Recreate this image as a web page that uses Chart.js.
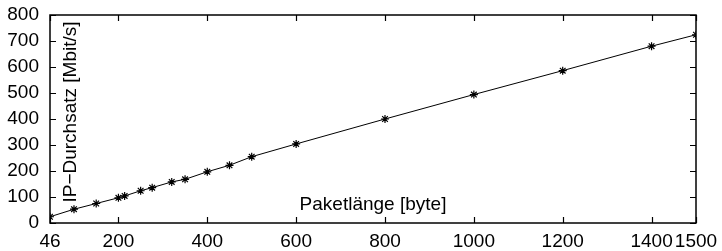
<!DOCTYPE html>
<html lang="de">
<head>
<meta charset="UTF-8">
<title>IP-Durchsatz</title>
<script src="https://cdn.jsdelivr.net/npm/chart.js"></script>
<style>
    html, body { margin: 0; padding: 0; background: #fff; }
    #wrap { width: 722px; height: 251px; }
</style>
</head>
<body>
<div id="wrap"><canvas id="chart" width="722" height="251"></canvas></div>
<script>
    // Paketlänge [byte] und gemessener IP-Durchsatz [Mbit/s]
    const paketLaenge = [46, 100, 150, 200, 214, 250, 276, 320, 350, 400, 450, 500, 600, 800, 1000, 1200, 1400, 1500];
    const durchsatz   = [24, 53, 75, 97, 104, 124, 136, 158, 168, 197, 222, 255, 304, 400, 494, 586, 680, 724];

    const xTicks = [46, 200, 400, 600, 800, 1000, 1200, 1400, 1500];
    const yTicks = [0, 100, 200, 300, 400, 500, 600, 700, 800];

    const xTitle = 'Paketlänge [byte]';
    const yTitle = 'IP\u2212Durchsatz [Mbit/s]';

    const FONT = 'Liberation Sans, Arial, Helvetica, sans-serif';

    // frame, inward ticks on all four sides and the axis titles inside the plot
    const framePlugin = {
        id: 'frame',
        afterDraw(chart) {
            const ctx = chart.ctx;
            const a = chart.chartArea;
            const xs = chart.scales.x, ys = chart.scales.y;
            const len = 6;
            ctx.save();
            ctx.strokeStyle = '#000';
            ctx.lineWidth = 1.2;
            ctx.beginPath();
            xTicks.forEach(v => {
                const px = Math.round(xs.getPixelForValue(v)) + 0.5;
                ctx.moveTo(px, a.bottom); ctx.lineTo(px, a.bottom - len);
                ctx.moveTo(px, a.top); ctx.lineTo(px, a.top + len);
            });
            yTicks.forEach(v => {
                const py = Math.round(ys.getPixelForValue(v)) + 0.5;
                ctx.moveTo(a.left, py); ctx.lineTo(a.left + len, py);
                ctx.moveTo(a.right, py); ctx.lineTo(a.right - len, py);
            });
            ctx.stroke();
            ctx.lineWidth = 1.5;
            ctx.strokeRect(a.left, a.top, a.right - a.left, a.bottom - a.top);

            ctx.fillStyle = '#000';
            ctx.font = '19px ' + FONT;
            ctx.textAlign = 'center';
            ctx.textBaseline = 'alphabetic';
            ctx.fillText(xTitle, 373, 210);

            ctx.translate(76, 112);
            ctx.rotate(-Math.PI / 2);
            ctx.fillText(yTitle, 0, 0);
            ctx.restore();
        }
    };

    new Chart(document.getElementById('chart'), {
        type: 'scatter',
        data: {
            datasets: [{
                data: paketLaenge.map((x, i) => ({ x: x, y: durchsatz[i] })),
                showLine: true,
                borderColor: '#000',
                borderWidth: 1,
                pointStyle: 'star',
                pointRadius: 4,
                pointBorderColor: '#000',
                pointBorderWidth: 1.2,
                pointBackgroundColor: '#000',
                tension: 0
            }]
        },
        options: {
            responsive: false,
            animation: false,
            layout: { padding: { top: 15, right: 26, left: 0, bottom: 0 } },
            plugins: { legend: { display: false }, tooltip: { enabled: false } },
            scales: {
                x: {
                    type: 'linear',
                    min: 46,
                    max: 1500,
                    afterBuildTicks: s => { s.ticks = xTicks.map(v => ({ value: v })); },
                    afterFit: s => {
                        s.height = 28;
                        s.paddingLeft = 0; s.paddingRight = 0;
                    },
                    grid: { display: false, drawTicks: false },
                    border: { display: false },
                    ticks: {
                        autoSkip: false,
                        maxRotation: 0,
                        padding: 7,
                        color: '#000',
                        font: { family: FONT, size: 19 },
                        callback: v => String(v)
                    }
                },
                y: {
                    min: 0,
                    max: 800,
                    afterBuildTicks: s => { s.ticks = yTicks.map(v => ({ value: v })); },
                    afterFit: s => {
                        s.width = 50;
                        s.paddingTop = 0; s.paddingBottom = 0;
                    },
                    grid: { display: false, drawTicks: false },
                    border: { display: false },
                    ticks: {
                        padding: 11,
                        color: '#000',
                        font: { family: FONT, size: 19 },
                        callback: v => String(v)
                    }
                }
            }
        },
        plugins: [framePlugin]
    });
</script>
</body>
</html>
